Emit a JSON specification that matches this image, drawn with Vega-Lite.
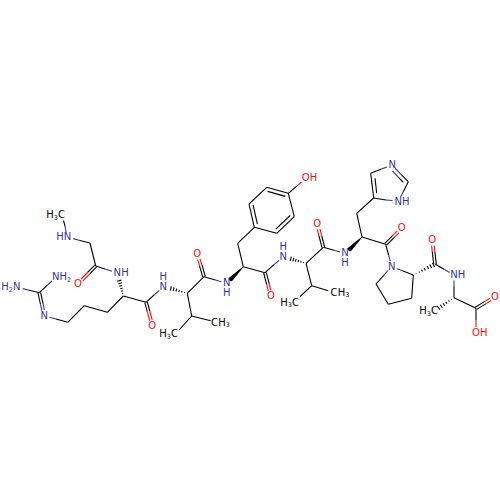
{"$schema":"https://vega.github.io/schema/vega-lite/v6.json","width":500,"height":500,"padding":0,"autosize":{"type":"fit","contains":"padding"},"background":"white","config":{"view":{"stroke":null}},
"layer":[
{"data":{"values":[
{"x":90,"y":243,"x2":95.7,"y2":266,"c":"k"},{"x":123.3,"y":296,"x2":146,"y2":302.3,"c":"k"},{"x":123.3,"y":296,"x2":107.3,"y2":312.3,"c":"k"},{"x":107.3,"y":312.3,"x2":84.3,"y2":305.7,"c":"k"},{"x":84.3,"y":305.7,"x2":67.7,"y2":322.3,"c":"k"},
{"x":187.3,"y":293.3,"x2":204,"y2":276.7,"c":"k"},{"x":187.3,"y":293.3,"x2":191.7,"y2":316,"c":"k"},{"x":191.7,"y":316,"x2":210.7,"y2":320.7,"c":"k"},{"x":191.7,"y":316,"x2":179,"y2":330,"c":"k"},
{"x":243.3,"y":266.7,"x2":265,"y2":272.7,"c":"k"},{"x":243.3,"y":266.7,"x2":237.7,"y2":243.3,"c":"k"},{"x":237.7,"y":243.3,"x2":254.3,"y2":227.3,"c":"k"},
{"x":254.3,"y":227.3,"x2":276.7,"y2":233.3,"c":"k"},{"x":276.7,"y":233.3,"x2":294.3,"y2":216.7,"c":"k"},{"x":294.3,"y":216.7,"x2":288.3,"y2":193.3,"c":"k"},{"x":288.3,"y":193.3,"x2":266.7,"y2":187.3,"c":"k"},{"x":266.7,"y":187.3,"x2":249,"y2":204,"c":"k"},{"x":249,"y":204,"x2":254.3,"y2":227.3,"c":"k"},
{"x":275.8,"y":229.2,"x2":290.2,"y2":215.5,"c":"k"},{"x":285.3,"y":196.4,"x2":267.6,"y2":191.4,"c":"k"},{"x":253.1,"y":205.1,"x2":257.4,"y2":224.2,"c":"k"},
{"x":306,"y":263.3,"x2":323.3,"y2":247.3,"c":"k"},{"x":306,"y":263.3,"x2":311.7,"y2":285.7,"c":"k"},{"x":311.7,"y":285.7,"x2":328.3,"y2":290.7,"c":"k"},{"x":311.7,"y":285.7,"x2":300,"y2":296.7,"c":"k"},
{"x":362,"y":237,"x2":385.7,"y2":244.3,"c":"k"},{"x":362,"y":237,"x2":356.7,"y2":213.3,"c":"k"},{"x":356.7,"y":213.3,"x2":373.7,"y2":198,"c":"k"},
{"x":373.7,"y":198,"x2":370.7,"y2":173.3,"c":"k"},{"x":376.7,"y":193.3,"x2":375,"y2":178.3,"c":"k"},
{"x":370.7,"y":173.3,"x2":381.5,"y2":169,"c":"k"},{"x":381.5,"y":169,"x2":387,"y2":167,"c":"n"},
{"x":395,"y":168,"x2":401.5,"y2":174.8,"c":"n"},{"x":401.5,"y":174.8,"x2":408.3,"y2":181.7,"c":"k"},{"x":392.5,"y":171,"x2":398,"y2":176.8,"c":"n"},{"x":398,"y":176.8,"x2":403.3,"y2":182.3,"c":"k"},
{"x":408.3,"y":181.7,"x2":403.3,"y2":191.7,"c":"k"},{"x":403.3,"y":191.7,"x2":400.5,"y2":197,"c":"n"},
{"x":392.5,"y":200.5,"x2":386,"y2":200,"c":"n"},{"x":386,"y":200,"x2":373.7,"y2":198,"c":"k"},
{"x":376,"y":284,"x2":388.3,"y2":304.3,"c":"k"},{"x":388.3,"y":304.3,"x2":411.7,"y2":298.3,"c":"k"},{"x":411.7,"y":298.3,"x2":413.3,"y2":275,"c":"k"},
{"x":388,"y":270.5,"x2":383.8,"y2":275.3,"c":"n"},{"x":383.8,"y":275.3,"x2":376,"y2":284,"c":"k"},{"x":397,"y":268.7,"x2":402.5,"y2":270.8,"c":"n"},{"x":402.5,"y":270.8,"x2":413.3,"y2":275,"c":"k"},
{"x":385.7,"y":244.3,"x2":388.7,"y2":255.5,"c":"k"},{"x":388.7,"y":255.5,"x2":390.3,"y2":261.3,"c":"n"},
{"x":435,"y":264,"x2":444.5,"y2":269.5,"c":"k"},{"x":444.5,"y":269.5,"x2":449.5,"y2":272.4,"c":"n"},{"x":454,"y":280.5,"x2":454,"y2":286.3,"c":"n"},{"x":454,"y":286.3,"x2":454,"y2":297.7,"c":"k"},
{"x":454,"y":297.7,"x2":476,"y2":308.3,"c":"k"},{"x":476,"y":308.3,"x2":476,"y2":320.5,"c":"k"},{"x":476,"y":320.5,"x2":476,"y2":327,"c":"o"},
{"x":288.3,"y":193.3,"x2":297,"y2":185.8,"c":"k"},{"x":297,"y":185.8,"x2":301.5,"y2":182,"c":"o"},
{"x":63.5,"y":220.5,"x2":65,"y2":226,"c":"k"},{"x":65,"y":226,"x2":66.2,"y2":232.5,"c":"n"},{"x":73.3,"y":238.6,"x2":80,"y2":240.5,"c":"n"},{"x":80,"y":240.5,"x2":90,"y2":243,"c":"k"},
{"x":95.7,"y":266,"x2":105,"y2":269,"c":"k"},{"x":105,"y":269,"x2":112,"y2":271.3,"c":"n"},{"x":146,"y":302.3,"x2":154.6,"y2":294.5,"c":"k"},{"x":154.6,"y":294.5,"x2":159.3,"y2":290.3,"c":"n"},
{"x":204,"y":276.7,"x2":215.3,"y2":280,"c":"k"},{"x":215.3,"y":280,"x2":221.3,"y2":281.7,"c":"n"},{"x":265,"y":272.7,"x2":274,"y2":264.7,"c":"k"},{"x":274,"y":264.7,"x2":279.2,"y2":260.3,"c":"n"},
{"x":323.3,"y":247.3,"x2":334,"y2":250.3,"c":"k"},{"x":334,"y":250.3,"x2":340,"y2":252,"c":"n"},
{"x":39.3,"y":292.7,"x2":47.5,"y2":285,"c":"k"},{"x":47.5,"y":285,"x2":52,"y2":281,"c":"n"},{"x":39.3,"y":292.7,"x2":28.3,"y2":290,"c":"k"},{"x":28.3,"y":290,"x2":22.8,"y2":288.6,"c":"n"},{"x":67.7,"y":322.3,"x2":56,"y2":319,"c":"k"},{"x":56,"y":319,"x2":49.5,"y2":317.2,"c":"n"},
{"x":96.6,"y":266.9,"x2":89.8,"y2":273.8,"c":"k"},{"x":89.8,"y":273.8,"x2":82.9,"y2":280.8,"c":"o"},{"x":94.8,"y":265.1,"x2":88,"y2":272,"c":"k"},{"x":88,"y":272,"x2":81.1,"y2":279,"c":"o"},
{"x":147.3,"y":302,"x2":149.8,"y2":311,"c":"k"},{"x":149.8,"y":311,"x2":152.2,"y2":320,"c":"o"},{"x":144.8,"y":302.6,"x2":147.3,"y2":311.6,"c":"k"},{"x":147.3,"y":311.6,"x2":149.7,"y2":320.6,"c":"o"},
{"x":205.3,"y":276.3,"x2":202,"y2":265,"c":"k"},{"x":202,"y":265,"x2":200,"y2":258.8,"c":"o"},{"x":202.8,"y":277.1,"x2":199.5,"y2":265.8,"c":"k"},{"x":199.5,"y":265.8,"x2":197.6,"y2":259.6,"c":"o"},
{"x":266.3,"y":272.4,"x2":269.3,"y2":284.1,"c":"k"},{"x":269.3,"y":284.1,"x2":270.9,"y2":290.3,"c":"o"},{"x":263.7,"y":273,"x2":266.7,"y2":284.7,"c":"k"},{"x":266.7,"y":284.7,"x2":268.3,"y2":290.9,"c":"o"},
{"x":324.6,"y":247,"x2":321.6,"y2":235.4,"c":"k"},{"x":321.6,"y":235.4,"x2":320,"y2":229.1,"c":"o"},{"x":322,"y":247.6,"x2":319,"y2":236,"c":"k"},{"x":319,"y":236,"x2":317.4,"y2":229.7,"c":"o"},
{"x":386.6,"y":245.2,"x2":394.6,"y2":237.2,"c":"k"},{"x":394.6,"y":237.2,"x2":398.9,"y2":232.9,"c":"o"},{"x":384.8,"y":243.4,"x2":392.8,"y2":235.4,"c":"k"},{"x":392.8,"y":235.4,"x2":397.1,"y2":231.1,"c":"o"},
{"x":436.3,"y":264,"x2":434.9,"y2":252,"c":"k"},{"x":434.9,"y":252,"x2":434.2,"y2":245.5,"c":"o"},{"x":433.7,"y":264,"x2":432.3,"y2":252,"c":"k"},{"x":432.3,"y":252,"x2":431.6,"y2":245.5,"c":"o"},
{"x":476.7,"y":309.4,"x2":486.2,"y2":303.6,"c":"k"},{"x":486.2,"y":303.6,"x2":491.3,"y2":300.5,"c":"o"},{"x":475.3,"y":307.2,"x2":484.8,"y2":301.4,"c":"k"},{"x":484.8,"y":301.4,"x2":489.9,"y2":298.3,"c":"o"},
{"x":40.6,"y":292.4,"x2":43.1,"y2":303.9,"c":"k"},{"x":43.1,"y":303.9,"x2":44.4,"y2":310.1,"c":"n"},{"x":38,"y":293,"x2":40.5,"y2":304.5,"c":"k"},{"x":40.5,"y":304.5,"x2":41.8,"y2":310.7,"c":"n"},
{"x":122.3,"y":293.6,"x2":123.1,"y2":293.4,"c":"k"},{"x":121.2,"y":291.1,"x2":122.8,"y2":290.7,"c":"k"},{"x":120.3,"y":288.7,"x2":122.5,"y2":288.1,"c":"k"},{"x":119.2,"y":286.2,"x2":122.2,"y2":285.4,"c":"k"},{"x":118.3,"y":283.8,"x2":121.9,"y2":282.8,"c":"k"},{"x":117.2,"y":281.3,"x2":121.6,"y2":280.1,"c":"k"},
{"x":184.5,"y":292.9,"x2":184.7,"y2":292.1,"c":"k"},{"x":181.6,"y":292.5,"x2":182,"y2":290.9,"c":"k"},{"x":178.8,"y":292,"x2":179.4,"y2":289.8,"c":"k"},{"x":175.9,"y":291.5,"x2":176.7,"y2":288.7,"c":"k"},{"x":173.1,"y":291.1,"x2":174.1,"y2":287.5,"c":"k"},{"x":170.2,"y":290.7,"x2":171.4,"y2":286.3,"c":"k"},
{"x":303.4,"y":263,"x2":303.6,"y2":262.2,"c":"k"},{"x":300.7,"y":262.6,"x2":301.1,"y2":261,"c":"k"},{"x":298.1,"y":262.2,"x2":298.7,"y2":260,"c":"k"},{"x":295.4,"y":261.7,"x2":296.2,"y2":258.9,"c":"k"},{"x":292.8,"y":261.4,"x2":293.8,"y2":257.8,"c":"k"},{"x":290.1,"y":261,"x2":291.3,"y2":256.6,"c":"k"},
{"x":416,"y":273.3,"x2":416.2,"y2":273.9,"c":"k"},{"x":418.9,"y":271.4,"x2":419.5,"y2":272.6,"c":"k"},{"x":421.5,"y":269.7,"x2":422.5,"y2":271.5,"c":"k"},{"x":424.2,"y":268,"x2":425.4,"y2":270.4,"c":"k"},{"x":427,"y":266.1,"x2":428.6,"y2":269.1,"c":"k"},{"x":429.8,"y":264.4,"x2":431.6,"y2":268,"c":"k"},{"x":432.5,"y":262.8,"x2":434.5,"y2":266.9,"c":"k"},
{"x":451.3,"y":299.1,"x2":451.7,"y2":299.7,"c":"k"},{"x":448.5,"y":300.4,"x2":449.3,"y2":301.8,"c":"k"},{"x":445.8,"y":301.9,"x2":447,"y2":303.7,"c":"k"},{"x":443,"y":303.3,"x2":444.6,"y2":305.7,"c":"k"},{"x":440.3,"y":304.7,"x2":442.3,"y2":307.7,"c":"k"},{"x":437.4,"y":306,"x2":440,"y2":309.8,"c":"k"}
]},"mark":{"type":"rule","strokeWidth":1.1},"encoding":{
"x":{"field":"x","type":"quantitative","scale":{"domain":[0,500]},"axis":null},
"y":{"field":"y","type":"quantitative","scale":{"domain":[500,0]},"axis":null},
"x2":{"field":"x2"},"y2":{"field":"y2"},
"color":{"field":"c","type":"nominal","scale":{"domain":["k","n","o"],"range":["#000000","#33339E","#FF0D0D"]},"legend":null}}},
{"data":{"values":[
{"id":"a","o":0,"x":243.3,"y":266.7,"w":0.5},{"id":"a","o":1,"x":231,"y":279,"w":4.5},
{"id":"b","o":0,"x":362,"y":237,"w":0.5},{"id":"b","o":1,"x":350,"y":249,"w":4.5}
]},"mark":{"type":"trail","color":"#000000"},"encoding":{
"x":{"field":"x","type":"quantitative","scale":{"domain":[0,500]},"axis":null},
"y":{"field":"y","type":"quantitative","scale":{"domain":[500,0]},"axis":null},
"detail":{"field":"id"},"order":{"field":"o","type":"ordinal"},
"size":{"field":"w","type":"quantitative","scale":null,"legend":null}}},
{"data":{"values":[
{"t":"H","x":50,"y":215,"c":"k","s":10},{"t":"3","x":55.8,"y":217.5,"c":"k","s":6.5},{"t":"C","x":61.5,"y":215,"c":"k","s":10},
{"t":"H","x":59.9,"y":237.3,"c":"n","s":10},{"t":"N","x":67.4,"y":237.3,"c":"n","s":10},
{"t":"O","x":78,"y":284,"c":"o","s":10},{"t":"N","x":117.3,"y":273,"c":"n","s":10},{"t":"H","x":125,"y":273,"c":"n","s":10},
{"t":"O","x":152.3,"y":325.7,"c":"o","s":10},{"t":"N","x":163.3,"y":286.8,"c":"n","s":10},{"t":"H","x":163.3,"y":276.8,"c":"n","s":10},
{"t":"O","x":197.3,"y":254,"c":"o","s":10},{"t":"N","x":226.7,"y":283.1,"c":"n","s":10},{"t":"H","x":226.7,"y":293.1,"c":"n","s":10},
{"t":"O","x":271,"y":296,"c":"o","s":10},{"t":"N","x":283.3,"y":256.9,"c":"n","s":10},{"t":"H","x":283.3,"y":246.9,"c":"n","s":10},
{"t":"O","x":305.7,"y":178.3,"c":"o","s":10},{"t":"H","x":313.4,"y":178.3,"c":"o","s":10},
{"t":"O","x":317.3,"y":224,"c":"o","s":10},{"t":"N","x":345,"y":253,"c":"n","s":10},{"t":"H","x":345,"y":263,"c":"n","s":10},
{"t":"N","x":392.3,"y":165,"c":"n","s":10},{"t":"N","x":398.3,"y":201.7,"c":"n","s":10},{"t":"H","x":405.8,"y":201.7,"c":"n","s":10},
{"t":"O","x":401.7,"y":228.3,"c":"o","s":10},{"t":"N","x":391.7,"y":266.7,"c":"n","s":10},{"t":"O","x":432.3,"y":240,"c":"o","s":10},
{"t":"N","x":454,"y":275,"c":"n","s":10},{"t":"H","x":461.5,"y":275,"c":"n","s":10},
{"t":"H","x":423,"y":311,"c":"k","s":10},{"t":"3","x":428.8,"y":313.5,"c":"k","s":6.5},{"t":"C","x":434.5,"y":311,"c":"k","s":10},
{"t":"O","x":495,"y":296.7,"c":"o","s":10},{"t":"O","x":476,"y":332.7,"c":"o","s":10},{"t":"H","x":483.7,"y":332.7,"c":"o","s":10},
{"t":"N","x":55.7,"y":277.3,"c":"n","s":10},{"t":"H","x":63.2,"y":277.3,"c":"n","s":10},{"t":"2","x":69.1,"y":279.8,"c":"n","s":6.5},
{"t":"H","x":5,"y":287.3,"c":"n","s":10},{"t":"2","x":10.9,"y":289.8,"c":"n","s":6.5},{"t":"N","x":16.8,"y":287.3,"c":"n","s":10},
{"t":"N","x":44.3,"y":315.7,"c":"n","s":10},
{"t":"C","x":214.5,"y":322.7,"c":"k","s":10},{"t":"H","x":222,"y":322.7,"c":"k","s":10},{"t":"3","x":227.9,"y":325,"c":"k","s":6.5},
{"t":"H","x":163,"y":334,"c":"k","s":10},{"t":"3","x":168.8,"y":336.5,"c":"k","s":6.5},{"t":"C","x":174.5,"y":334,"c":"k","s":10},
{"t":"C","x":334,"y":292.7,"c":"k","s":10},{"t":"H","x":341.5,"y":292.7,"c":"k","s":10},{"t":"3","x":347.4,"y":295,"c":"k","s":6.5},
{"t":"H","x":284,"y":302.7,"c":"k","s":10},{"t":"3","x":289.8,"y":305,"c":"k","s":6.5},{"t":"C","x":295.5,"y":302.7,"c":"k","s":10}
]},"mark":{"type":"text","font":"DejaVu Sans","align":"center","baseline":"middle"},"encoding":{
"x":{"field":"x","type":"quantitative","scale":{"domain":[0,500]},"axis":null},
"y":{"field":"y","type":"quantitative","scale":{"domain":[500,0]},"axis":null},
"text":{"field":"t","type":"nominal"},
"size":{"field":"s","type":"quantitative","scale":null,"legend":null},
"color":{"field":"c","type":"nominal","scale":{"domain":["k","n","o"],"range":["#000000","#33339E","#FF0D0D"]},"legend":null}}}
]}
